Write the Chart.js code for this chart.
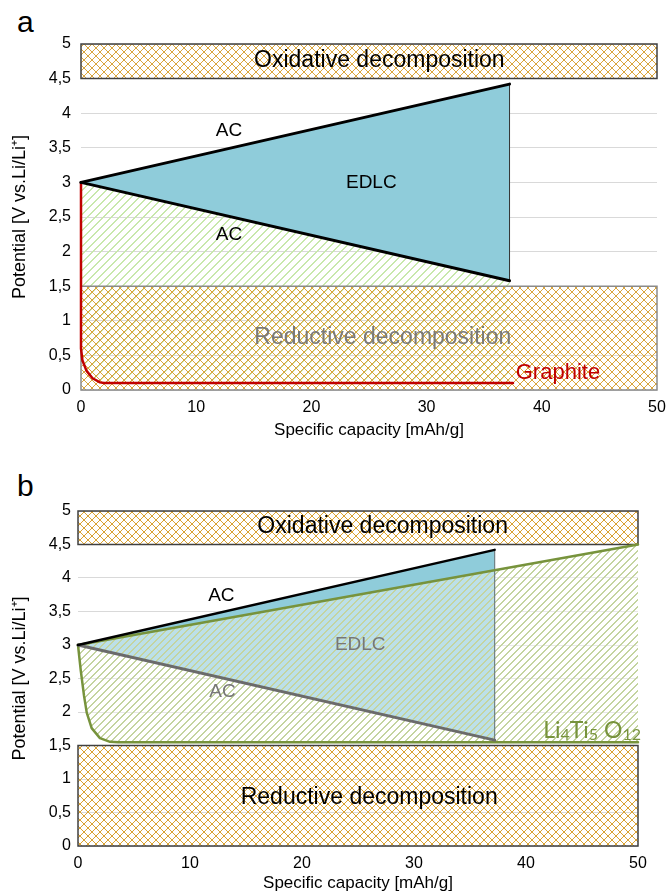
<!DOCTYPE html>
<html><head><meta charset="utf-8">
<script src="https://cdn.jsdelivr.net/npm/chart.js@4.4.0/dist/chart.umd.min.js"></script>
<style>
html,body{margin:0;padding:0;background:#fff;width:668px;height:894px;overflow:hidden;font-family:"Liberation Sans",Arial,sans-serif}
canvas{position:absolute;left:0}
#ca{top:0}#cb{top:460px}
.pl{position:absolute;left:17px;font-size:30px;line-height:30px;color:#000}
</style></head><body>
<div class="pl" style="top:7px">a</div>
<div class="pl" style="top:471px">b</div>
<canvas id="ca" width="668" height="441"></canvas>
<canvas id="cb" width="668" height="434"></canvas>
<script>
// ---------- data ----------
const xTickValues = [0, 10, 20, 30, 40, 50];
const yTickLabels = ['0','0,5','1','1,5','2','2,5','3','3,5','4','4,5','5'];
const xTitle = 'Specific capacity [mAh/g]';
const yTitle = 'Potential [V vs.Li/Li\u207A]';

// panel a
const acUpperA = [{x:0,y:3},{x:37.2,y:4.42}];
const acLowerA = [{x:0,y:3},{x:37.2,y:1.58}];
const graphiteX = [0, 0, 0.12, 0.47, 1.0, 1.65, 2.0, 37.5];
const graphiteY = [3, 0.6, 0.43, 0.28, 0.17, 0.11, 0.1, 0.1];
const oxidativeA = {x0:0, x1:50, y0:4.5, y1:5};
const reductiveA = {x0:0, x1:50, y0:0, y1:1.5};

// panel b
const acUpperB = [{x:0,y:3},{x:37.2,y:4.42}];
const acLowerB = [{x:0,y:3},{x:37.2,y:1.58}];
const ltoUpperX = [0, 50];
const ltoUpperY = [3, 4.5];
const ltoLowerX = [0, 0.24, 0.54, 0.78, 1.22, 1.96, 2.86, 3.6, 50];
const ltoLowerY = [3, 2.63, 2.24, 1.99, 1.76, 1.61, 1.555, 1.55, 1.55];
const oxidativeB = {x0:0, x1:50, y0:4.5, y1:5};
const reductiveB = {x0:0, x1:50, y0:0, y1:1.5};

const graphite = graphiteX.map((x,i)=>({x, y:graphiteY[i]}));
const ltoUpper = ltoUpperX.map((x,i)=>({x, y:ltoUpperY[i]}));
const ltoLower = ltoLowerX.map((x,i)=>({x, y:ltoLowerY[i]}));

// ---------- helpers ----------
const FONT = '"Liberation Sans", Arial, sans-serif';
function P(chart, p){ return [chart.scales.x.getPixelForValue(p.x), chart.scales.y.getPixelForValue(p.y)]; }
function pathPoly(ctx, chart, pts){
  ctx.beginPath();
  pts.forEach((p,i)=>{ const [X,Y]=P(chart,p); if(i) ctx.lineTo(X,Y); else ctx.moveTo(X,Y); });
  ctx.closePath();
}
function boxPts(b){ return [{x:b.x0,y:b.y0},{x:b.x1,y:b.y0},{x:b.x1,y:b.y1},{x:b.x0,y:b.y1}]; }
// crisp pixel hatch patterns
function makePattern(ctx, color, size, cross, thick){
  const c=document.createElement('canvas'); c.width=c.height=size;
  const g=c.getContext('2d'); g.fillStyle=color;
  const t=thick||1;
  for(let i=0;i<size;i++){
    for(let k=0;k<t;k++){
      g.fillRect((i+k)%size, size-1-i, 1, 1);
      if(cross) g.fillRect((i+k)%size, i, 1, 1);
    }
  }
  return ctx.createPattern(c,'repeat');
}
function drawText(ctx, chart, t){
  const [X,Y]=P(chart,t);
  ctx.save(); ctx.font=t.font; ctx.fillStyle=t.color; ctx.textAlign='center'; ctx.textBaseline='middle';
  ctx.fillText(t.text,X,Y); ctx.restore();
}
function drawSubFormula(ctx, chart, t){
  const [X,Y]=P(chart,t);   // Y = baseline
  ctx.save(); ctx.fillStyle=t.color; ctx.textBaseline='alphabetic';
  const big = t.size+'px '+t.family, small = Math.round(t.size*0.7)+'px '+t.family;
  let w=0;
  t.parts.forEach(([s,sub])=>{ ctx.font=sub?small:big; w+=ctx.measureText(s).width; });
  let x=X-w/2;
  t.parts.forEach(([s,sub])=>{ ctx.font=sub?small:big; ctx.fillText(s,x,Y+(sub?2:0)); x+=ctx.measureText(s).width; });
  ctx.restore();
}
function lineDS(data, color, width){
  return {data, showLine:true, borderColor:color, borderWidth:width, pointRadius:0, fill:false, tension:0,
          borderJoinStyle:'round', borderCapStyle:'round', clip:false};
}
function baseOptions(yW, xH, padTop, padRight, yTickPad){
  return {
    responsive:false, animation:false, devicePixelRatio:1,
    layout:{padding:{left:0, right:padRight, top:padTop, bottom:0}},
    plugins:{legend:{display:false}, tooltip:{enabled:false}},
    scales:{
      x:{type:'linear', min:0, max:50,
         afterBuildTicks(s){ s.ticks = xTickValues.map(v=>({value:v})); },
         ticks:{font:{family:FONT,size:16}, color:'#000', padding:0, maxRotation:0},
         grid:{display:false}, border:{display:false},
         title:{display:true, text:xTitle, font:{family:FONT,size:17}, color:'#000', padding:{top:0,bottom:0}},
         afterFit(s){ s.height=xH; }},
      y:{type:'linear', min:0, max:5,
         ticks:{stepSize:0.5, font:{family:FONT,size:16}, color:'#000', padding:yTickPad,
                callback:v=>yTickLabels[Math.round(v*2)]},
         grid:{color:'#d9d9d9', lineWidth:1, drawTicks:false}, border:{display:false},
         title:{display:true, text:yTitle, font:{family:FONT,size:18}, color:'#000', padding:{top:9,bottom:0}},
         afterFit(s){ s.width=yW; }}
    }
  };
}

// ---------- panel a ----------
const pluginA = {
  id:'regionsA',
  beforeDatasetsDraw(chart){
    const ctx=chart.ctx; ctx.save();
    const green=makePattern(ctx,'rgb(200,232,172)',8,false,2);
    const cross=makePattern(ctx,'rgb(218,165,60)',8,true,1);
    const xEnd = acLowerA[1].x;
    const under = graphite.filter(p=>p.x<xEnd).reverse();
    pathPoly(ctx,chart,[...acLowerA,{x:xEnd,y:graphite[graphite.length-1].y},...under]);
    ctx.fillStyle=green; ctx.fill();
    pathPoly(ctx,chart,boxPts(oxidativeA)); ctx.fillStyle=cross; ctx.fill();
    ctx.lineWidth=1.5; ctx.strokeStyle='#404040'; ctx.stroke();
    pathPoly(ctx,chart,boxPts(reductiveA)); ctx.fillStyle=cross; ctx.fill();
    ctx.strokeStyle='#8a8a8a'; ctx.stroke();
    pathPoly(ctx,chart,[...acUpperA,...acLowerA.slice().reverse()]);
    ctx.fillStyle='rgb(143,204,218)'; ctx.fill();
    ctx.beginPath(); let [x1,y1]=P(chart,acUpperA[1]); let [x2,y2]=P(chart,acLowerA[1]);
    ctx.moveTo(x1,y1); ctx.lineTo(x2,y2); ctx.lineWidth=1; ctx.strokeStyle='#333'; ctx.stroke();
    ctx.restore();
  },
  afterDatasetsDraw(chart){
    const ctx=chart.ctx;
    drawText(ctx,chart,{x:25.9,y:4.76,text:'Oxidative decomposition',font:'23px '+FONT,color:'#000'});
    drawText(ctx,chart,{x:12.85,y:3.74,text:'AC',font:'19px '+FONT,color:'#000'});
    drawText(ctx,chart,{x:12.85,y:2.25,text:'AC',font:'19px '+FONT,color:'#000'});
    drawText(ctx,chart,{x:25.2,y:2.99,text:'EDLC',font:'19px '+FONT,color:'#000'});
    drawText(ctx,chart,{x:26.2,y:0.75,text:'Reductive decomposition',font:'23px '+FONT,color:'#7a7a7a'});
    drawText(ctx,chart,{x:41.4,y:0.25,text:'Graphite',font:'22px '+FONT,color:'#c00000'});
  }
};
new Chart(document.getElementById('ca'),{
  type:'scatter',
  data:{datasets:[
    lineDS(acUpperA,'#000',3),
    lineDS(acLowerA,'#000',3),
    lineDS(graphite,'#c00000',2.5)
  ]},
  options:baseOptions(81, 441-390, 44, 11, 10),
  plugins:[pluginA]
});

// ---------- panel b ----------
const pluginB = {
  id:'regionsB',
  beforeDatasetsDraw(chart){
    const ctx=chart.ctx; ctx.save();
    const green=makePattern(ctx,'rgb(196,212,160)',7,false,2);
    const cross=makePattern(ctx,'rgb(218,162,50)',8,true,1);
    pathPoly(ctx,chart,[...acUpperB,...acLowerB.slice().reverse()]);
    ctx.fillStyle='rgb(143,204,218)'; ctx.fill();
    pathPoly(ctx,chart,[...ltoUpper,...ltoLower.slice().reverse()]);
    ctx.fillStyle='rgba(255,255,255,0.4)'; ctx.fill();
    ctx.fillStyle=green; ctx.fill();
    ctx.beginPath(); let [x1,y1]=P(chart,acUpperB[1]); let [x2,y2]=P(chart,acLowerB[1]);
    ctx.moveTo(x1,y1); ctx.lineTo(x2,y2); ctx.lineWidth=1.2; ctx.strokeStyle='#6f7f85'; ctx.stroke();
    pathPoly(ctx,chart,boxPts(oxidativeB)); ctx.fillStyle=cross; ctx.fill();
    ctx.lineWidth=1.5; ctx.strokeStyle='#404040'; ctx.stroke();
    pathPoly(ctx,chart,boxPts(reductiveB)); ctx.fillStyle=cross; ctx.fill();
    ctx.stroke();
    ctx.restore();
  },
  afterDatasetsDraw(chart){
    const ctx=chart.ctx;
    drawText(ctx,chart,{x:27.2,y:4.77,text:'Oxidative decomposition',font:'23px '+FONT,color:'#000'});
    drawText(ctx,chart,{x:12.8,y:3.73,text:'AC',font:'19px '+FONT,color:'#000'});
    drawText(ctx,chart,{x:12.9,y:2.3,text:'AC',font:'19px '+FONT,color:'#777'});
    drawText(ctx,chart,{x:25.2,y:3.0,text:'EDLC',font:'19px '+FONT,color:'#777'});
    drawText(ctx,chart,{x:26.0,y:0.72,text:'Reductive decomposition',font:'23px '+FONT,color:'#000'});
    drawSubFormula(ctx,chart,{x:45.9,y:1.61,size:23,family:'Lato, sans-serif',color:'#77933c',
      parts:[['Li',false],['4',true],['Ti',false],['5',true],[' O',false],['12',true]]});
  }
};
new Chart(document.getElementById('cb'),{
  type:'scatter',
  data:{datasets:[
    lineDS(acUpperB,'#000',2.5),
    lineDS(acLowerB,'#6b6b6b',3),
    lineDS(ltoLower,'#77933c',2.5),
    lineDS(ltoUpper,'#77933c',2.5)
  ]},
  options:baseOptions(78, 434-386, 51, 30, 7),
  plugins:[pluginB]
});
</script>
</body></html>
